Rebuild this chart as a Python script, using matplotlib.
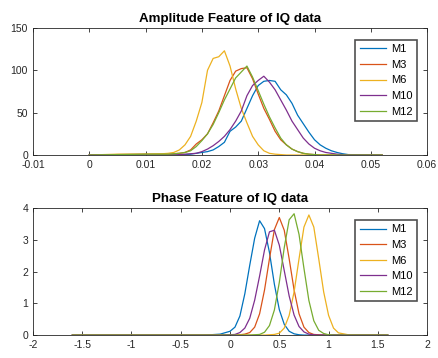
import matplotlib.pyplot as plt
import numpy as np

plt.rcParams["font.family"] = ["Liberation Sans", "DejaVu Sans"]

labels = ["M1", "M3", "M6", "M10", "M12"]
colors = ["#0072BD", "#D95319", "#EDB120", "#7E2F8E", "#77AC30"]

# amplitude feature
amp_x = [0.000, 0.005, 0.010, 0.013, 0.014, 0.015, 0.016, 0.017, 0.018, 0.019,
         0.020, 0.021, 0.022, 0.023, 0.024, 0.025, 0.026, 0.027, 0.028, 0.029,
         0.030, 0.031, 0.032, 0.033, 0.034, 0.035, 0.036, 0.037, 0.038, 0.039,
         0.040, 0.041, 0.042, 0.043, 0.044, 0.045, 0.046, 0.052]
amp_m1 = [0, 0, 0, 0, 0, 0, 0, 0.5, 1, 2,
          3, 4, 6, 10, 15, 28, 33, 40, 55, 70,
          82, 87, 88, 87, 77, 71, 61, 47, 37, 27,
          18, 12, 8, 5, 3, 1.5, 0.5, 0]
amp_m3 = [0, 0.5, 1, 1, 1, 1.5, 2, 3, 6, 13,
          18, 25, 38, 52, 70, 88, 99, 102, 103, 90,
          72, 55, 42, 28, 18, 12, 7, 4, 2, 1,
          0.5, 0, 0, 0, 0, 0, 0, 0]
amp_m6 = [0, 1, 1, 1.5, 2, 3, 6, 12, 22, 40,
          62, 100, 114, 116, 123, 105, 78, 55, 38, 22,
          12, 5, 2, 1, 0.5, 0, 0, 0, 0, 0,
          0, 0, 0, 0, 0, 0, 0, 0]
amp_m10 = [0, 0, 0, 0, 0, 0, 0.5, 1, 1.5, 2,
           4, 7, 11, 16, 22, 30, 40, 52, 70, 82,
           88, 93, 86, 77, 65, 53, 40, 30, 20, 13,
           8, 5, 3, 2, 1, 0.5, 0.3, 0]
amp_m12 = [0, 0.5, 1, 1, 1, 1.5, 2, 3, 5, 10,
           17, 25, 36, 50, 65, 78, 91, 98, 105, 92,
           76, 60, 45, 32, 20, 12, 7, 4, 2, 1,
           0.5, 0, 0, 0, 0, 0, 0, 0]

# phase feature
ph_x = [-1.6, -0.3, -0.2, -0.1, 0.0, 0.05, 0.1, 0.15, 0.2, 0.25,
        0.3, 0.35, 0.4, 0.45, 0.5, 0.55, 0.6, 0.65, 0.7, 0.75,
        0.8, 0.85, 0.9, 0.95, 1.0, 1.05, 1.1, 1.2, 1.3, 1.6]
ph_m1 = [0, 0, 0.01, 0.03, 0.12, 0.25, 0.6, 1.3, 2.2, 3.05,
         3.6, 3.35, 2.6, 1.6, 0.8, 0.34, 0.12, 0.04, 0.01, 0,
         0, 0, 0, 0, 0, 0, 0, 0, 0, 0]
ph_m3 = [0, 0, 0, 0, 0, 0, 0.01, 0.03, 0.08, 0.25,
         0.67, 1.42, 2.4, 3.32, 3.7, 3.3, 2.4, 1.42, 0.67, 0.25,
         0.08, 0.02, 0.01, 0, 0, 0, 0, 0, 0, 0]
ph_m6 = [0, 0, 0, 0, 0, 0, 0, 0, 0, 0,
         0, 0, 0.01, 0.02, 0.06, 0.22, 0.62, 1.36, 2.4, 3.4,
         3.78, 3.4, 2.4, 1.36, 0.62, 0.22, 0.07, 0.01, 0, 0]
ph_m10 = [0, 0, 0, 0, 0.01, 0.02, 0.08, 0.22, 0.53, 1.1,
          1.86, 2.68, 3.25, 3.3, 2.83, 2.03, 1.23, 0.63, 0.27, 0.1,
          0.03, 0.01, 0, 0, 0, 0, 0, 0, 0, 0]
ph_m12 = [0, 0, 0, 0, 0, 0, 0, 0, 0, 0.01,
          0.02, 0.09, 0.3, 0.79, 1.66, 2.75, 3.63, 3.82, 3.17, 2.1,
          1.09, 0.45, 0.15, 0.05, 0.01, 0, 0, 0, 0, 0]

amp = [amp_m1, amp_m3, amp_m6, amp_m10, amp_m12]
ph = [ph_m1, ph_m3, ph_m6, ph_m10, ph_m12]

fig = plt.figure(figsize=(4.39, 3.58), dpi=100)
ax1 = fig.add_axes([0.075, 0.567, 0.898, 0.355])
ax2 = fig.add_axes([0.075, 0.064, 0.898, 0.355])

for ys, c, lab in zip(amp, colors, labels):
    ax1.plot(amp_x, ys, color=c, linewidth=0.9, label=lab)
for ys, c, lab in zip(ph, colors, labels):
    ax2.plot(ph_x, ys, color=c, linewidth=0.9, label=lab)


def style(ax, title, xt, yt, xl, yl):
    ax.set_xlim(xl)
    ax.set_ylim(yl)
    ax.set_xticks(xt)
    ax.set_yticks(yt)
    ax.set_xticklabels([("%g" % v) for v in xt])
    ax.set_yticklabels([("%g" % v) for v in yt])
    ax.set_title(title, fontsize=9.6, fontweight="bold", color="black", pad=4)
    ax.tick_params(direction="in", top=True, right=True, length=3, width=0.6,
                   labelsize=7.5, colors="#262626")
    for s in ax.spines.values():
        s.set_color("#262626")
        s.set_linewidth(0.6)
    leg = ax.legend(loc="upper right", bbox_to_anchor=(0.974, 0.906), fontsize=8,
                    fancybox=False, framealpha=1, edgecolor="#505050",
                    handlelength=2.4, handletextpad=0.4, borderpad=0.4,
                    labelspacing=0.5, borderaxespad=0)
    leg.get_frame().set_linewidth(1.2)


style(ax1, "Amplitude Feature of IQ data", np.arange(-0.01, 0.061, 0.01),
      [0, 50, 100, 150], (-0.01, 0.06), (0, 150))
style(ax2, "Phase Feature of IQ data", np.arange(-2, 2.01, 0.5),
      [0, 1, 2, 3, 4], (-2, 2), (0, 4))

fig.savefig("out.png", dpi=100)
